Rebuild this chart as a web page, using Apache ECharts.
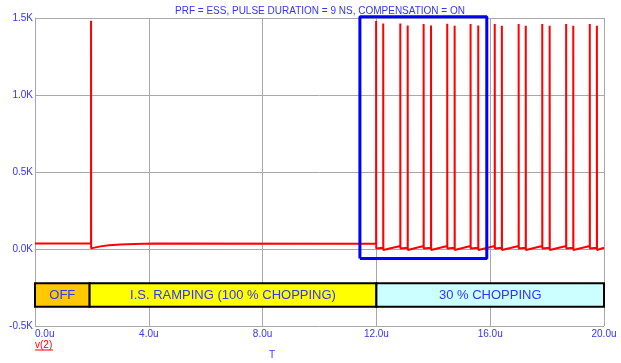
<!DOCTYPE html>
<html>
<head>
<meta charset="utf-8">
<script src="https://cdn.jsdelivr.net/npm/echarts@6/dist/echarts.min.js"></script>
<style>
html,body{margin:0;padding:0;background:#fff;}
#chart{width:621px;height:363px;}
</style>
</head>
<body>
<div id="chart"></div>
<script>
// ---- data ----
const titleText = 'PRF = ESS, PULSE DURATION = 9 NS, COMPENSATION = ON';
const traceName = 'v(2)';
const xAxisName = 'T';
const xTickStep = 4;       // us
const yTickStep = 500;     // V
const xRange = [0, 20];
const yRange = [-500, 1500];

// pulse instants (us) and peak values (V)
const pulseTimes  = [1.97, 11.99, 12.24, 12.84, 13.10, 13.66, 13.92, 14.49, 14.75, 15.31, 15.58, 16.16, 16.41, 17.00, 17.25, 17.83, 18.09, 18.67, 18.92, 19.50, 19.75];
const pulsePeaks  = [1482, 1481, 1465, 1465, 1452, 1461, 1452, 1463, 1450, 1461, 1452, 1461, 1449, 1461, 1450, 1461, 1450, 1461, 1450, 1461, 1449];
// level just before and just after each pulse (V)
const levelBefore = [35, 34, 8, 20, 8, 20, 8, 20, 8, 20, 8, 20, 8, 20, 8, 20, 8, 20, 8, 20, 8];
const levelAfter  = [4, 3, -6, 3, -6, 3, -6, 3, -6, 3, -6, 3, -6, 3, -6, 3, -6, 3, -6, 3, -6];
// recovery after the first pulse
const recoveryTimes  = [2.3, 2.6, 3.0, 3.5, 4.2];
const recoveryValues = [17, 25, 30, 33, 35];
const startValue = 35;
const endValue = 8;

// operating-mode bands
const bandNames  = ['OFF', 'I.S. RAMPING (100 % CHOPPING)', '30 % CHOPPING'];
const bandStarts = [0, 1.92, 12];
const bandEnds   = [1.92, 12, 20];
const bandValueRange = [-375, -222];

// highlighted window
const highlightTimes  = [11.42, 15.88];
const highlightValues = [-61, 1508];

// ---- styles ----
const FONT = '"Liberation Sans", Arial, Helvetica, sans-serif';
const BLUE_TEXT = '#3434ff';
const GRID_GRAY = '#a8a8a8';
const bandColors = ['#ffc800', '#ffff00', '#ccffff'];

// ---- build trace ----
const trace = [[xRange[0], startValue]];
for (let i = 0; i < pulseTimes.length; i++) {
  const t = pulseTimes[i];
  trace.push([t, levelBefore[i]], [t, pulsePeaks[i]], [t + 0.004, levelAfter[i]]);
  if (i === 0) {
    for (let k = 0; k < recoveryTimes.length; k++) trace.push([recoveryTimes[k], recoveryValues[k]]);
  }
}
trace.push([xRange[1], endValue]);

const bandAreas = bandNames.map((n, i) => [
  { name: n, xAxis: bandStarts[i], yAxis: bandValueRange[1], itemStyle: { color: bandColors[i] } },
  { xAxis: bandEnds[i], yAxis: bandValueRange[0] }
]);

const rect = [
  [highlightTimes[0], highlightValues[0]],
  [highlightTimes[1], highlightValues[0]],
  [highlightTimes[1], highlightValues[1]],
  [highlightTimes[0], highlightValues[1]],
  [highlightTimes[0], highlightValues[0]]
];

const chart = echarts.init(document.getElementById('chart'), null, { renderer: 'canvas' });
chart.setOption({
  animation: false,
  backgroundColor: '#ffffff',
  grid: { left: 35, right: 17, top: 18, bottom: 37, containLabel: false, outerBoundsMode: 'none' },
  xAxis: {
    type: 'value', min: xRange[0], max: xRange[1], interval: xTickStep,
    axisLine: { show: true, lineStyle: { color: GRID_GRAY, width: 1 } },
    axisTick: { show: false },
    splitLine: { show: true, lineStyle: { color: GRID_GRAY, width: 1 } },
    axisLabel: {
      color: BLUE_TEXT, fontSize: 10, fontFamily: FONT, margin: 3,
      alignMinLabel: 'left',
      formatter: v => v.toFixed(1) + 'u'
    }
  },
  yAxis: {
    type: 'value', min: yRange[0], max: yRange[1], interval: yTickStep,
    axisLine: { show: true, lineStyle: { color: GRID_GRAY, width: 1 } },
    axisTick: { show: false },
    splitLine: { show: true, lineStyle: { color: GRID_GRAY, width: 1 } },
    axisLabel: {
      color: BLUE_TEXT, fontSize: 10, fontFamily: FONT, margin: 2,
      formatter: v => (v / 1000).toFixed(1) + 'K'
    }
  },
  series: [
    {
      type: 'line', data: [], silent: true, z: 1,
      markArea: {
        silent: true,
        itemStyle: { borderColor: '#000000', borderWidth: 2 },
        label: { show: true, position: 'inside', color: BLUE_TEXT, fontSize: 13, fontFamily: FONT, formatter: '{b}' },
        data: bandAreas
      }
    },
    {
      name: traceName, type: 'line', data: trace, showSymbol: false, symbol: 'none',
      lineStyle: { color: '#ff0000', width: 2, join: 'bevel' }, z: 3, clip: true
    },
    {
      type: 'line', data: rect, showSymbol: false, symbol: 'none', clip: false,
      lineStyle: { color: '#0000ff', width: 3 }, z: 4
    }
  ],
  graphic: [
    { type: 'text', x: 320, y: 11, z: 10,
      style: { text: titleText, fill: BLUE_TEXT, font: '10px ' + FONT, textAlign: 'center', textVerticalAlign: 'middle' } },
    { type: 'text', x: 35, y: 345, z: 10,
      style: { text: traceName, fill: '#ff0000', font: '10px ' + FONT, textAlign: 'left', textVerticalAlign: 'middle' } },
    { type: 'line', z: 10, shape: { x1: 35, y1: 350, x2: 53, y2: 350 }, style: { stroke: '#ff0000', lineWidth: 1 } },
    { type: 'text', x: 272, y: 355, z: 10,
      style: { text: xAxisName, fill: BLUE_TEXT, font: '10px ' + FONT, textAlign: 'center', textVerticalAlign: 'middle' } }
  ]
});
</script>
</body>
</html>
